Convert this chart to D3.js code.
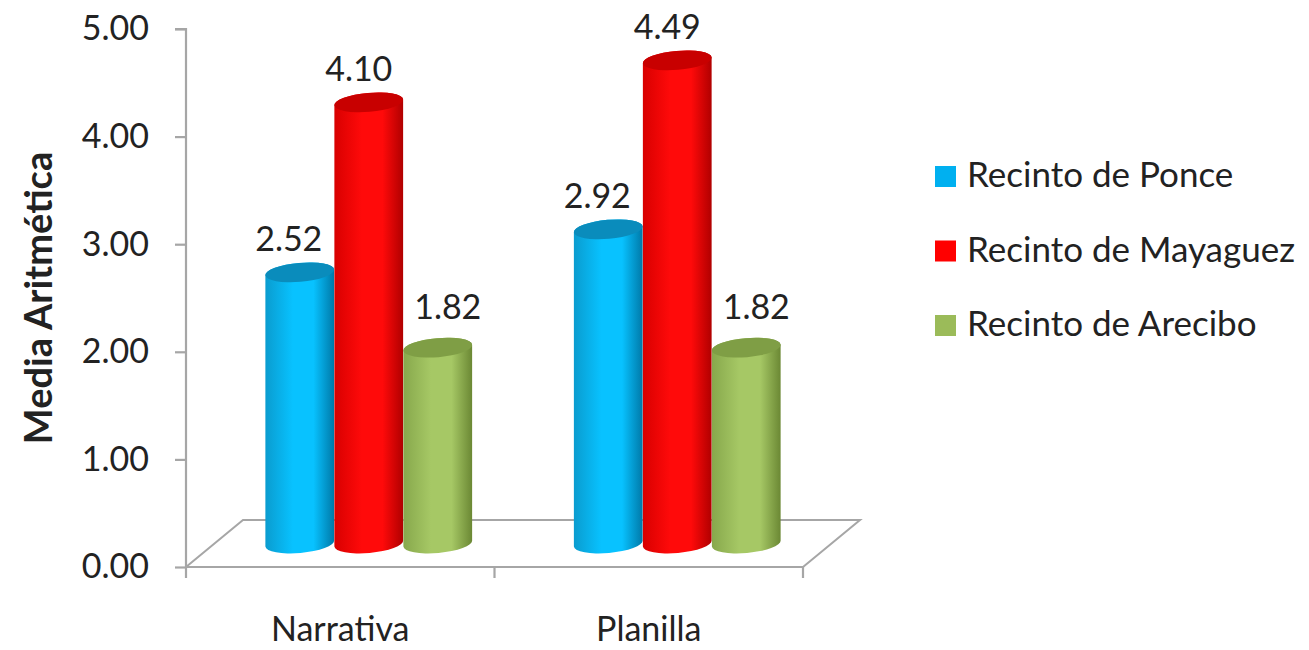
<!DOCTYPE html>
<html>
<head>
<meta charset="utf-8">
<script src="https://cdn.jsdelivr.net/npm/d3@7"></script>
<style>
  body { margin: 0; background: #fff; }
  text { font-family: Lato, "Open Sans", sans-serif; fill: #222; }
</style>
</head>
<body>
<svg id="chart" width="1309" height="650"></svg>
<script>
const categories = ['Narrativa', 'Planilla'];
const series = ['Recinto de Ponce', 'Recinto de Mayaguez', 'Recinto de Arecibo'];
const values = {
  'Recinto de Ponce': [2.52, 2.92],
  'Recinto de Mayaguez': [4.10, 4.49],
  'Recinto de Arecibo': [1.82, 1.82]
};
const yTicks = [0, 1, 2, 3, 4, 5];

// colours: [left edge, highlight, right edge, top cap]
const colors = {
  'Recinto de Ponce': ['#0a9ccf', '#08c2ff', '#0079a8', '#0a8cbc'],
  'Recinto de Mayaguez': ['#d80000', '#ff0a0a', '#b00000', '#c80000'],
  'Recinto de Arecibo': ['#87a84c', '#a6c865', '#6b8834', '#7f9e45']
};
const legendColors = ['#00b0f0', '#ff0000', '#9bbb59'];
// label nudges per series, like excel puts them
const labelDx = [-11, -10, 10];
const labelDy = [-12, -12, -19];

const svg = d3.select('#chart');
const defs = svg.append('defs');

const depthX = 57, depthY = 47;
const y = d3.scaleLinear().domain([0, 5]).range([567, 29]);
const x0 = d3.scaleBand().domain(categories).range([186, 803]);
const groupW = 207;
const x1 = d3.scaleBand().domain(series).range([0, groupW]);

// floor
const floorPts = [
  [186, y(0)], [803, y(0)], [803 + depthX, y(0) - depthY], [186 + depthX, y(0) - depthY]
];
svg.append('path')
  .attr('d', 'M' + floorPts.slice(1).map(p => p.join(',')).join('L') + 'L' + floorPts[0].join(','))
  .attr('fill', 'none')
  .attr('stroke', '#a6a6a6')
  .attr('stroke-width', 2);

// y axis
const yAxis = svg.append('g')
  .attr('transform', 'translate(186,0)')
  .call(d3.axisLeft(y).tickValues(yTicks).tickFormat(d3.format('.2f')).tickSize(11).tickPadding(26));
yAxis.select('.domain').attr('stroke', '#a6a6a6').attr('stroke-width', 2.2)
  .attr('d', `M-11,${y(5)}H0V${y(0)}`);
yAxis.selectAll('.tick line').attr('stroke', '#a6a6a6').attr('stroke-width', 2.2);
yAxis.selectAll('.tick text')
  .style('font-family', 'Lato, sans-serif')
  .style('font-size', '34px')
  .attr('fill', '#222');

// x axis line + ticks
const xEdges = categories.map(c => x0(c)).concat([x0.range()[1]]);
svg.append('line')
  .attr('x1', 186).attr('x2', 803).attr('y1', y(0)).attr('y2', y(0))
  .attr('stroke', '#a6a6a6').attr('stroke-width', 2.2);
svg.selectAll('.xtick')
  .data(xEdges)
  .enter()
  .append('line')
  .attr('x1', d => d).attr('x2', d => d)
  .attr('y1', y(0)).attr('y2', y(0) + 11)
  .attr('stroke', '#a6a6a6').attr('stroke-width', 2.2);

svg.selectAll('.xlabel')
  .data(categories)
  .enter()
  .append('text')
  .attr('x', c => x0(c) + x0.bandwidth() / 2)
  .attr('y', 641)
  .attr('text-anchor', 'middle')
  .style('font-size', '34px')
  .text(c => c);

// y title
svg.append('text')
  .attr('transform', 'translate(52,298) rotate(-90)')
  .attr('text-anchor', 'middle')
  .style('font-size', '38px')
  .style('font-weight', 'bold')
  .text('Media Aritmética');

// gradients
series.forEach((s, i) => {
  const g = defs.append('linearGradient').attr('id', 'grad' + i)
    .attr('x1', 0).attr('x2', 1).attr('y1', 0).attr('y2', 0);
  g.append('stop').attr('offset', '0%').attr('stop-color', colors[s][0]);
  g.append('stop').attr('offset', '40%').attr('stop-color', colors[s][1]);
  g.append('stop').attr('offset', '70%').attr('stop-color', colors[s][1]);
  g.append('stop').attr('offset', '100%').attr('stop-color', colors[s][2]);
});

// cylinders
const rx = x1.bandwidth() / 2, ry = 9.5, tilt = -5;
const tr = tilt * Math.PI / 180;
const ex = rx * Math.cos(tr), ey = rx * Math.sin(tr);

const bars = [];
categories.forEach((c, ci) => {
  series.forEach((s, si) => {
    const cx = x0(c) + (x0.bandwidth() - groupW) / 2 + depthX / 2 + x1(s) + rx;
    bars.push({ c, s, si, v: values[s][ci], cx });
  });
});

const barSel = svg.append('g')
  .selectAll('g')
  .data(bars)
  .enter()
  .append('g');

barSel.append('path')
  .attr('fill', d => `url(#grad${d.si})`)
  .attr('d', d => {
    const yb = y(0) - depthY / 2, yt = y(d.v) - depthY / 2;
    return `M${d.cx - ex},${yt - ey}L${d.cx - ex},${yb - ey}` +
      `A${rx},${ry} ${tilt} 0 0 ${d.cx + ex},${yb + ey}` +
      `L${d.cx + ex},${yt + ey}` +
      `A${rx},${ry} ${tilt} 0 0 ${d.cx - ex},${yt - ey}Z`;
  });

barSel.append('ellipse')
  .attr('cx', d => d.cx)
  .attr('cy', d => y(d.v) - depthY / 2)
  .attr('rx', rx)
  .attr('ry', ry)
  .attr('transform', d => `rotate(${tilt},${d.cx},${y(d.v) - depthY / 2})`)
  .attr('fill', d => colors[d.s][3]);

// data labels
svg.selectAll('.dlabel')
  .data(bars)
  .enter()
  .append('text')
  .attr('x', d => d.cx + labelDx[d.si])
  .attr('y', d => y(d.v) - depthY / 2 - ry + labelDy[d.si])
  .attr('text-anchor', 'middle')
  .style('font-size', '34px')
  .text(d => d.v.toFixed(2));

// legend
const legend = svg.append('g')
  .selectAll('g')
  .data(series)
  .enter()
  .append('g')
  .attr('transform', (s, i) => `translate(935,${166 + i * 74.5})`);

legend.append('rect')
  .attr('width', 21).attr('height', 21)
  .attr('fill', (s, i) => legendColors[i]);

legend.append('text')
  .attr('x', 32).attr('y', 21)
  .style('font-size', '35px')
  .text(s => s);
</script>
</body>
</html>
